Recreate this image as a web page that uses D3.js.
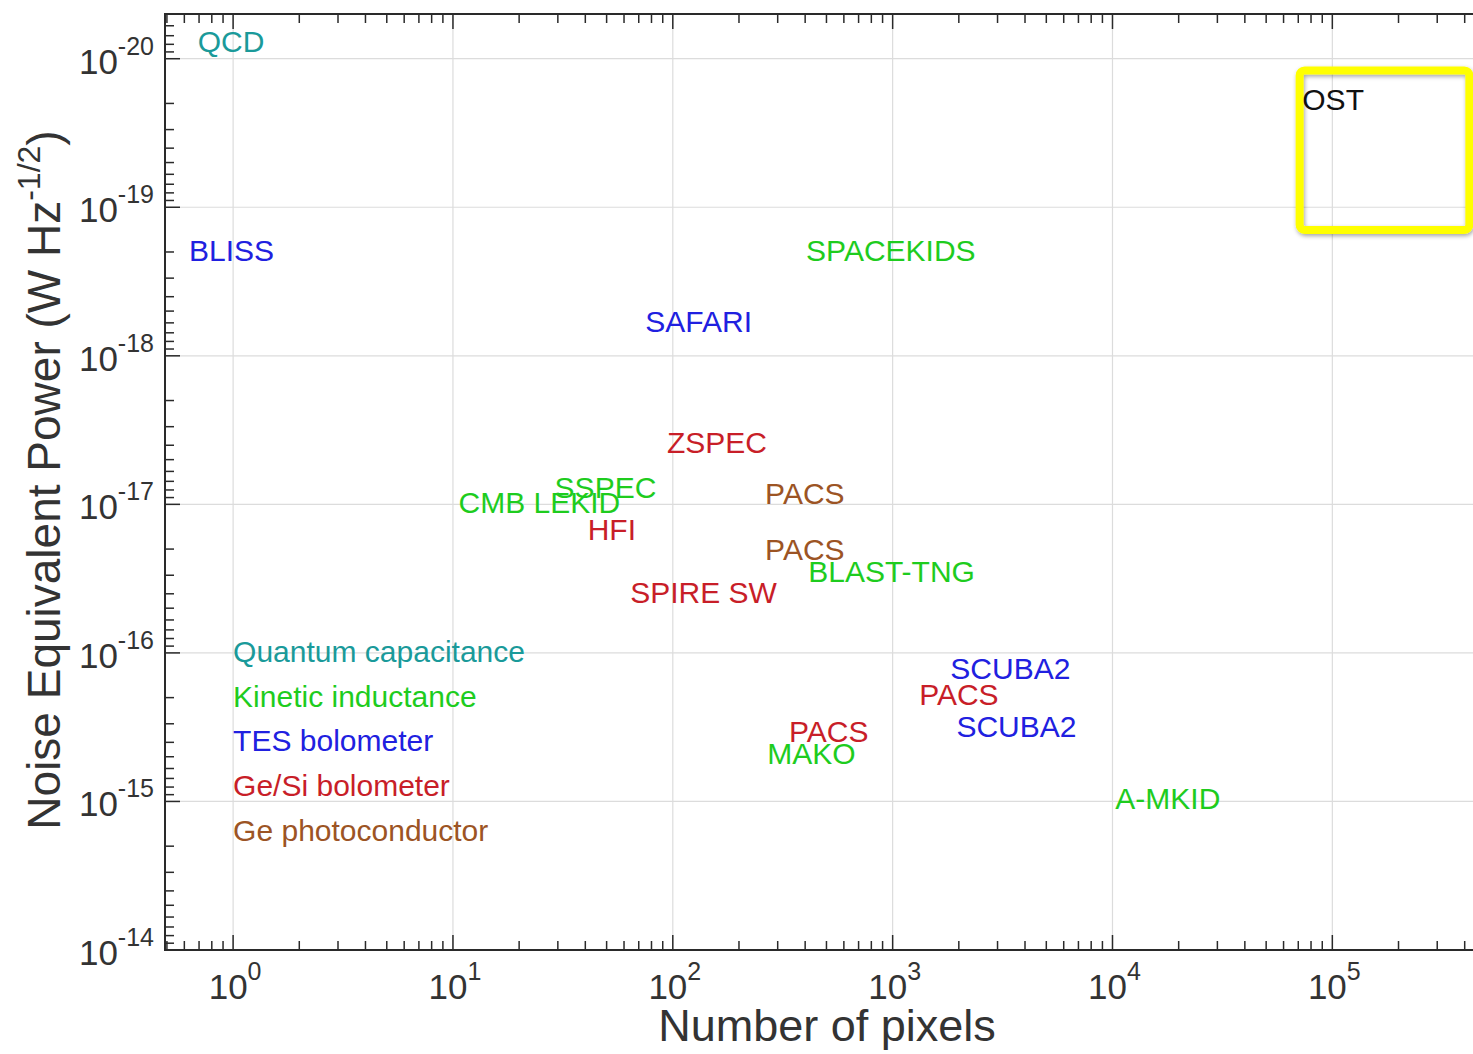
<!DOCTYPE html>
<html>
<head>
<meta charset="utf-8">
<script src="https://cdn.jsdelivr.net/npm/d3@7"></script>
<style>
  body { margin: 0; background: #fff; }
  svg text { font-family: "Liberation Sans", Arial, Helvetica, sans-serif; }
</style>
</head>
<body>
<div id="chart"></div>
<script>
// detector labels, number of pixels, NEP (W Hz^-1/2) and detector type
const names = ["QCD", "BLISS", "SPACEKIDS", "SAFARI", "ZSPEC", "SSPEC", "CMB LEKID", "HFI",
    "PACS", "PACS", "BLAST-TNG", "SPIRE SW", "SCUBA2", "PACS", "SCUBA2", "PACS", "MAKO", "A-MKID", "OST"];
const pixels = [0.69, 0.63, 404, 75, 94, 29, 10.6, 41,
    263, 263, 413, 64, 1830, 1320, 1950, 338, 269, 10300, 73000];
const nep = [7.8e-21, 2e-19, 2e-19, 6e-19, 3.9e-18, 7.9e-18, 1e-17, 1.5e-17,
    8.6e-18, 2.07e-17, 2.9e-17, 4e-17, 1.3e-16, 1.95e-16, 3.2e-16, 3.45e-16, 4.9e-16, 9.8e-16, 1.94e-20];
const detType = [0, 2, 1, 2, 3, 1, 1, 3,
    4, 4, 1, 3, 2, 3, 2, 3, 1, 1, 5];

// legend (types), placed as text in data coordinates
const typeNames = ["Quantum capacitance", "Kinetic inductance", "TES bolometer", "Ge/Si bolometer", "Ge photoconductor"];
const typeColors = ["#1a9a9a", "#1ecc1e", "#2020e0", "#c81e28", "#9c5424", "#111111"];
const legendX = [1, 1, 1, 1, 1];
const legendY = [1e-16, 2e-16, 4e-16, 8e-16, 1.6e-15];

// axis ticks
const xTickExp = [0, 1, 2, 3, 4, 5];
const yTickExp = [-20, -19, -18, -17, -16, -15, -14];

// OST target box (data units)
const boxX = [7.1e4, 4.2e5];
const boxY = [1.2e-20, 1.42e-19];

const W = 1473, H = 1054;
const margin = { top: 14, left: 165, bottom: 104 };

const svg = d3.select("#chart").append("svg")
    .attr("width", W)
    .attr("height", H);

const defs = svg.append("defs");
const shadow = defs.append("filter").attr("id", "shadow")
    .attr("x", "-10%").attr("y", "-10%").attr("width", "130%").attr("height", "130%");
shadow.append("feDropShadow")
    .attr("dx", 1).attr("dy", 2).attr("stdDeviation", 2)
    .attr("flood-color", "#000").attr("flood-opacity", 0.35);

const x = d3.scaleLog().domain([0.49, 5e5]).range([margin.left, 1486]);
const y = d3.scaleLog().domain([5e-21, 1e-14]).range([margin.top, H - margin.bottom]);

const x0 = margin.left, x1 = W + 20;
const y0 = margin.top, y1 = y(1e-14);

// minor tick values
function minorTicks(domain) {
    const out = [];
    const lo = Math.floor(Math.log10(domain[0])), hi = Math.ceil(Math.log10(domain[1]));
    for (let e = lo; e <= hi; e++) {
        for (let m = 2; m <= 9; m++) {
            const v = m * Math.pow(10, e);
            if (v >= domain[0] && v <= domain[1]) out.push(v);
        }
    }
    return out;
}

// grid
const grid = svg.append("g").attr("stroke", "#dcdcdc").attr("stroke-width", 1.2);
grid.selectAll(".gx").data(xTickExp).enter().append("line")
    .attr("x1", d => x(Math.pow(10, d))).attr("x2", d => x(Math.pow(10, d)))
    .attr("y1", y0).attr("y2", y1);
grid.selectAll(".gy").data(yTickExp.slice(0, -1)).enter().append("line")
    .attr("y1", d => y(Math.pow(10, d))).attr("y2", d => y(Math.pow(10, d)))
    .attr("x1", x0).attr("x2", x1);

// ticks (inward), left + top + bottom
const axisColor = "#2a2a2a";
const ticks = svg.append("g").attr("stroke", axisColor).attr("stroke-width", 1.5);
const majorLen = 15, minorLen = 9;
const xMinor = minorTicks(x.domain());
const yMinor = minorTicks(y.domain());

[y1, y0].forEach((yy, i) => {
    const dir = i === 0 ? -1 : 1;
    ticks.selectAll(null).data(xTickExp).enter().append("line")
        .attr("x1", d => x(Math.pow(10, d))).attr("x2", d => x(Math.pow(10, d)))
        .attr("y1", yy).attr("y2", yy + dir * majorLen);
    ticks.selectAll(null).data(xMinor).enter().append("line")
        .attr("x1", d => x(d)).attr("x2", d => x(d))
        .attr("y1", yy).attr("y2", yy + dir * minorLen);
});
ticks.selectAll(null).data(yTickExp).enter().append("line")
    .attr("y1", d => y(Math.pow(10, d))).attr("y2", d => y(Math.pow(10, d)))
    .attr("x1", x0).attr("x2", x0 + majorLen);
ticks.selectAll(null).data(yMinor).enter().append("line")
    .attr("y1", d => y(d)).attr("y2", d => y(d))
    .attr("x1", x0).attr("x2", x0 + minorLen);

// axis lines
svg.append("path")
    .attr("d", `M${x1},${y0}H${x0}V${y1}H${x1}`)
    .attr("fill", "none")
    .attr("stroke", axisColor)
    .attr("stroke-width", 2);

// tick labels with superscript exponents
function powerLabel(sel, exp) {
    sel.append("tspan").text("10");
    sel.append("tspan").attr("dy", -19).attr("font-size", 25).text(exp);
}
svg.selectAll(".xl").data(xTickExp).enter().append("text")
    .attr("x", d => x(Math.pow(10, d)) + 2)
    .attr("y", y1 + 49)
    .attr("text-anchor", "middle")
    .attr("font-size", 35)
    .attr("fill", "#333")
    .each(function(d) { powerLabel(d3.select(this), d); });
svg.selectAll(".yl").data(yTickExp).enter().append("text")
    .attr("x", x0 - 11)
    .attr("y", d => y(Math.pow(10, d)) + 15)
    .attr("text-anchor", "end")
    .attr("font-size", 35)
    .attr("fill", "#333")
    .each(function(d) { powerLabel(d3.select(this), d); });

// axis titles
svg.append("text")
    .attr("x", 827).attr("y", 1041)
    .attr("text-anchor", "middle")
    .attr("font-size", 45)
    .attr("fill", "#333")
    .text("Number of pixels");

const yt = svg.append("text")
    .attr("transform", "translate(60,480) rotate(-90)")
    .attr("text-anchor", "middle")
    .attr("font-size", 46)
    .attr("fill", "#333");
yt.append("tspan").text("Noise Equivalent Power (W Hz");
yt.append("tspan").attr("dy", -20).attr("font-size", 32).text("-1/2");
yt.append("tspan").attr("dy", 20).text(")");

// OST box
svg.append("rect")
    .attr("x", x(boxX[0])).attr("y", y(boxY[0]))
    .attr("width", x(boxX[1]) - x(boxX[0]))
    .attr("height", y(boxY[1]) - y(boxY[0]))
    .attr("rx", 5)
    .attr("fill", "none")
    .attr("stroke", "#ffff00")
    .attr("stroke-width", 8)
    .attr("filter", "url(#shadow)");

// detector labels (left aligned, vertically centred at the data point)
svg.append("g").selectAll("text").data(names).enter().append("text")
    .attr("x", (d, i) => x(pixels[i]))
    .attr("y", (d, i) => y(nep[i]))
    .attr("dy", "0.3em")
    .attr("font-size", 30)
    .attr("fill", (d, i) => typeColors[detType[i]])
    .text(d => d);

// legend
svg.append("g").selectAll("text").data(typeNames).enter().append("text")
    .attr("x", (d, i) => x(legendX[i]))
    .attr("y", (d, i) => y(legendY[i]))
    .attr("dy", "0.3em")
    .attr("font-size", 30)
    .attr("fill", (d, i) => typeColors[i])
    .text(d => d);
</script>
</body>
</html>
